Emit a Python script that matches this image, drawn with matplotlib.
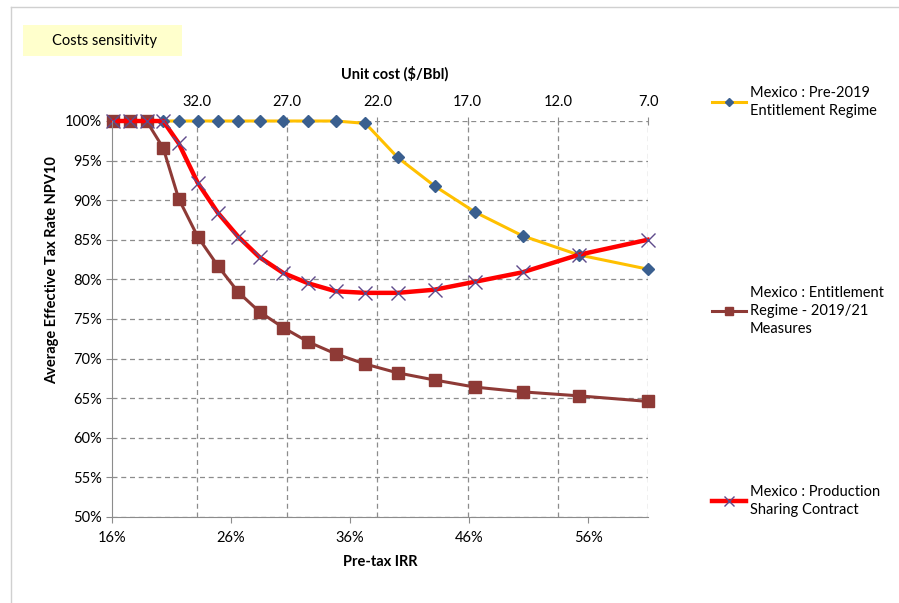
import matplotlib
matplotlib.use("Agg")
import matplotlib.pyplot as plt
from matplotlib.lines import Line2D
from matplotlib.patches import Rectangle
from matplotlib.ticker import FuncFormatter

plt.rcParams['font.family'] = ['Lato', 'DejaVu Sans']

# pre-tax IRR (%) of each case
irr = [16.1, 17.5, 18.9, 20.3, 21.6, 23.2, 24.9, 26.6, 28.4, 30.4,
       32.5, 34.8, 37.3, 40.0, 43.1, 46.5, 50.5, 55.2, 61.0]

# average effective tax rate NPV10 (%)
pre_2019 = [100, 100, 100, 100, 100, 100, 100, 100, 100, 100,
            100, 100, 99.7, 95.4, 91.8, 88.5, 85.5, 83.1, 81.3]
entitlement_2019_21 = [100, 100, 100, 96.6, 90.2, 85.4, 81.7, 78.4, 75.9, 73.9,
                       72.1, 70.6, 69.3, 68.2, 67.3, 66.4, 65.8, 65.3, 64.6]
psc = [100, 100, 100, 100, 97.2, 92.2, 88.4, 85.4, 82.8, 80.8,
       79.5, 78.5, 78.3, 78.3, 78.7, 79.7, 80.9, 83.1, 85.0]

bottom_ticks = [16, 26, 36, 46, 56]
cost_ticks = [32.0, 27.0, 22.0, 17.0, 12.0, 7.0]
y_ticks = [50, 55, 60, 65, 70, 75, 80, 85, 90, 95, 100]

labels = ["Mexico : Pre-2019\nEntitlement Regime",
          "Mexico : Entitlement\nRegime - 2019/21\nMeasures",
          "Mexico : Production\nSharing Contract"]

W, H = 899, 603
fig = plt.figure(figsize=(W / 100, H / 100), dpi=100)
ax = fig.add_axes([112 / W, 1 - 517 / H, (648 - 112) / W, (517 - 121) / H])

grid_kw = dict(color="#8c8c8c", linestyle=(0, (4, 3)), linewidth=0.9)
fs = 10.5

# top axis: unit cost, carries the vertical gridlines
top = ax.twiny()
top.set_xlim(36.71, 7.0)
top.set_xticks(cost_ticks)
top.set_xticklabels([f"{c:.1f}" for c in cost_ticks], fontsize=fs)
top.tick_params(axis="x", direction="inout", length=6, color="#8c8c8c", pad=6)
top.grid(True, axis="x", **grid_kw)
top.set_xlabel("Unit cost ($/Bbl)", fontsize=fs, fontweight="bold")
top.xaxis.set_label_coords(0.528, 1.106)
for s in top.spines.values():
    s.set_visible(False)
top.set_zorder(0)
ax.set_zorder(1)
ax.patch.set_visible(False)

ax.set_xlim(16, 61.04)
ax.set_ylim(50, 100)
ax.set_xticks(bottom_ticks)
ax.xaxis.set_major_formatter(FuncFormatter(lambda v, p: f"{v:.0f}%"))
ax.set_yticks(y_ticks)
ax.yaxis.set_major_formatter(FuncFormatter(lambda v, p: f"{v:.0f}%"))
ax.tick_params(labelsize=fs, length=4, color="#8c8c8c")
ax.tick_params(axis="x", pad=6)
ax.grid(True, axis="y", **grid_kw)
ax.set_axisbelow(True)
for side in ["top", "right"]:
    ax.spines[side].set_visible(False)
for side in ["left", "bottom"]:
    ax.spines[side].set_color("#8c8c8c")

ax.set_xlabel("Pre-tax IRR", fontsize=fs, fontweight="bold", labelpad=7)
ax.set_ylabel("Average Effective Tax Rate NPV10", fontsize=fs, fontweight="bold")
ax.yaxis.set_label_coords(-0.098, 0.624)

l1, = ax.plot(irr, pre_2019, color="#FFC000", lw=2.2, marker="D", ms=6.5,
              mfc="#3A5F8F", mec="#3A5F8F", clip_on=False)
l2, = ax.plot(irr, entitlement_2019_21, color="#8E3A36", lw=2.2, marker="s", ms=8,
              mfc="#8E3A36", mec="#8E3A36", clip_on=False)
l3, = ax.plot(irr, psc, color="#FF0000", lw=3.2, marker="x", ms=10, mew=1,
              mec="#5F4B8B", clip_on=False)

# legend entries spread down the right side
for h, lab, ytop in zip([l1, l2, l3], labels, [86, 286, 485]):
    leg = fig.legend(handles=[h], labels=[lab], loc="upper left",
                     bbox_to_anchor=(712 / W, 1 - ytop / H), frameon=False,
                     fontsize=fs, handlelength=2.3, handletextpad=0.3,
                     borderpad=0, borderaxespad=0, markerscale=0.7)
    for t in leg.get_texts():
        t.set_linespacing(1.35)

# title box
fig.add_artist(Rectangle((23 / W, 1 - 56 / H), 159 / W, 31 / H,
                         transform=fig.transFigure, facecolor="#FFFFCC",
                         edgecolor="none"))
fig.text(52 / W, 1 - 41 / H, "Costs sensitivity", fontsize=fs, va="center")

# chart outer border
fig.add_artist(Line2D([10.5 / W, 10.5 / W], [0, 1 - 7 / H],
                      transform=fig.transFigure, color="#d0d0d0", lw=1))
fig.add_artist(Line2D([10.5 / W, 1], [1 - 7 / H, 1 - 7 / H],
                      transform=fig.transFigure, color="#d0d0d0", lw=1))

fig.savefig("out.png", dpi=100)
